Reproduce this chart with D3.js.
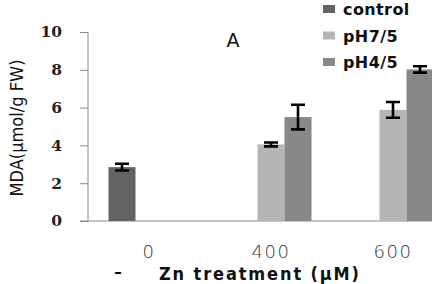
<html>
<head>
  <meta charset="utf-8">
  <script src="https://d3js.org/d3.v7.min.js"></script>
  <style>
    body { margin: 0; background: #fff; }
  </style>
</head>
<body>
<svg id="graph" width="432" height="284"></svg>
<script>
  var categories = [ "0", "400", "600" ];
  var seriesNames = [ "control", "pH7/5", "pH4/5" ];
  var controlVals = [ 2.85, null, null ];
  var controlErr  = [ 0.18, null, null ];
  var ph75Vals    = [ null, 4.05, 5.88 ];
  var ph75Err     = [ null, 0.1, 0.42 ];
  var ph45Vals    = [ null, 5.5, 8.02 ];
  var ph45Err     = [ null, 0.65, 0.17 ];
  var yTicks      = [ 0, 2, 4, 6, 8, 10 ];
  var colors      = [ "#636363", "#b5b5b5", "#888888" ];

  var series = [ controlVals, ph75Vals, ph45Vals ];
  var errs = [ controlErr, ph75Err, ph45Err ];

  var svg = d3.select( "#graph" );
  var mLeft = 88, mTop = 32, mBottom = 221;

  var x0 = d3.scaleBand().domain( categories ).range( [ mLeft, mLeft + 366 ] );
  var x1 = d3.scaleBand().domain( seriesNames ).range( [ 20.5, 101.5 ] );
  var y = d3.scaleLinear().domain( [ 0, 10 ] ).range( [ mBottom, mTop ] );

  // y axis
  var yAx = svg.append( "g" ).attr( "transform", "translate(" + mLeft + ",0)" )
      .call( d3.axisLeft( y ).tickValues( yTicks ).tickSize( 8 ).tickPadding( 18 ) );
  yAx.select( ".domain" ).attr( "stroke", "#8a8a8a" ).attr( "d", "M0," + mTop + "V" + mBottom );
  yAx.selectAll( ".tick line" ).attr( "stroke", "#8a8a8a" );
  yAx.selectAll( ".tick text" ).attr( "fill", "#222" )
      .style( "font", "bold 15.5px 'DejaVu Serif', serif" );

  // x axis line
  var xAx = svg.append( "g" ).attr( "transform", "translate(0," + mBottom + ")" )
      .call( d3.axisBottom( x0 ).tickSize( 0 ).tickPadding( 24 ) );
  xAx.select( ".domain" ).attr( "stroke", "#8a8a8a" ).attr( "d", "M80,0H432" );
  xAx.selectAll( ".tick text" ).attr( "fill", "#333" )
      .style( "font", "300 18px 'DejaVu Sans', sans-serif" ).style( "letter-spacing", "1.5px" );

  // bars
  series.forEach( function( vals, si ) {
    var g = svg.append( "g" );
    categories.forEach( function( c, ci ) {
      var v = vals[ ci ];
      if ( v == null ) return;
      var bx = x0( c ) + x1( seriesNames[ si ] );
      g.append( "rect" ).attr( "x", bx ).attr( "y", y( v ) )
        .attr( "width", x1.bandwidth() ).attr( "height", y( 0 ) - y( v ) )
        .attr( "fill", colors[ si ] );
      var e = errs[ si ][ ci ], cx = bx + x1.bandwidth() / 2;
      var ep = "M" + ( cx - 7 ) + "," + y( v + e ) + "H" + ( cx + 7 ) +
               "M" + cx + "," + y( v + e ) + "V" + y( v - e ) +
               "M" + ( cx - 7 ) + "," + y( v - e ) + "H" + ( cx + 7 );
      g.append( "path" ).attr( "d", ep ).attr( "stroke", "#000" ).attr( "stroke-width", 2.6 ).attr( "fill", "none" );
    } );
  } );

  // y label
  svg.append( "text" ).attr( "transform", "translate(23,128) rotate(-90)" )
    .attr( "text-anchor", "middle" ).attr( "fill", "#111" )
    .attr( "textLength", 137 ).attr( "lengthAdjust", "spacingAndGlyphs" )
    .style( "font", "18px 'Liberation Sans Narrow', 'DejaVu Sans Condensed', sans-serif" )
    .text( "MDA(μmol/g FW)" );

  // x label
  svg.append( "text" ).attr( "x", 118 ).attr( "y", 277 ).attr( "text-anchor", "middle" )
    .style( "font", "bold 15px 'DejaVu Sans', sans-serif" ).text( "–" );
  svg.append( "text" ).attr( "x", 159 ).attr( "y", 280 ).attr( "fill", "#111" )
    .attr( "textLength", 200 ).attr( "lengthAdjust", "spacing" )
    .style( "font", "bold 18px 'DejaVu Sans Condensed', 'DejaVu Sans', sans-serif" )
    .text( "Zn treatment (μM)" );

  // title
  svg.append( "text" ).attr( "x", 233 ).attr( "y", 47 ).attr( "text-anchor", "middle" )
    .style( "font", "19px 'DejaVu Sans', sans-serif" ).attr( "fill", "#111" ).text( "A" );

  // legend
  var lg = svg.append( "g" ).selectAll( "g" ).data( seriesNames ).join( "g" )
    .attr( "transform", function( d, i ) { return "translate(323," + ( 5 + i * 26.5 ) + ")"; } );
  lg.append( "rect" ).attr( "width", 12 ).attr( "height", 8 ).attr( "fill", function( d, i ) { return colors[ i ]; } );
  lg.append( "text" ).attr( "x", 20 ).attr( "y", 10 ).attr( "fill", "#111" )
    .style( "font", "bold 16px 'DejaVu Sans', sans-serif" ).style( "letter-spacing", "0.4px" )
    .text( function( d ) { return d; } );
</script>
</body>
</html>
